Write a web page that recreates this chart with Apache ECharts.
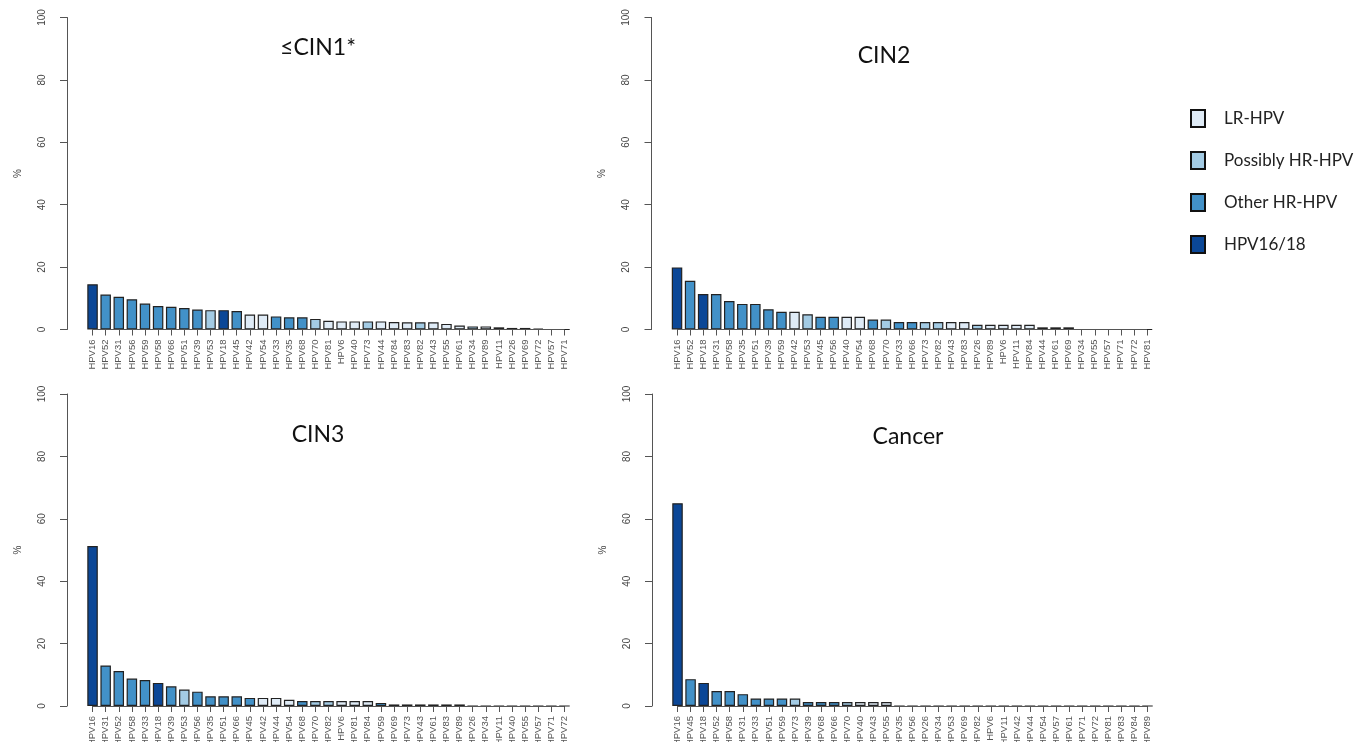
<!DOCTYPE html>
<html>
<head>
<meta charset="utf-8">
<script src="https://cdn.jsdelivr.net/npm/echarts@6/dist/echarts.min.js"></script>
<style>
html,body{margin:0;padding:0;background:#fff;}
#chart{width:1372px;height:742px;}
</style>
</head>
<body>
<div id="chart"></div>
<script>
// ---- Data ----
const panelTitles = ['\u2264CIN1*', 'CIN2', 'CIN3', 'Cancer'];

const cats1 = ['HPV16','HPV52','HPV31','HPV56','HPV59','HPV58','HPV66','HPV51','HPV39','HPV53','HPV18','HPV45','HPV42','HPV54','HPV33','HPV35','HPV68','HPV70','HPV81','HPV6','HPV40','HPV73','HPV44','HPV84','HPV83','HPV82','HPV43','HPV55','HPV61','HPV34','HPV89','HPV11','HPV26','HPV69','HPV72','HPV57','HPV71'];
const vals1 = [14.5,11.2,10.5,9.7,8.3,7.5,7.3,6.9,6.4,6.2,6.2,5.9,4.8,4.8,4.2,3.9,3.9,3.4,2.8,2.6,2.6,2.6,2.6,2.4,2.3,2.3,2.3,1.8,1.3,1.0,1.0,0.7,0.5,0.5,0.3,0,0];

const cats2 = ['HPV16','HPV52','HPV18','HPV31','HPV58','HPV35','HPV51','HPV39','HPV59','HPV42','HPV53','HPV45','HPV56','HPV40','HPV54','HPV68','HPV70','HPV33','HPV66','HPV73','HPV82','HPV43','HPV83','HPV26','HPV89','HPV6','HPV11','HPV84','HPV44','HPV61','HPV69','HPV34','HPV55','HPV57','HPV71','HPV72','HPV81'];
const vals2 = [19.9,15.6,11.4,11.4,9.1,8.2,8.2,6.5,5.7,5.7,4.9,4.1,4.1,4.1,4.1,3.2,3.2,2.4,2.4,2.4,2.4,2.4,2.4,1.5,1.5,1.5,1.5,1.5,0.7,0.7,0.7,0,0,0,0,0,0];

const cats3 = ['HPV16','HPV31','HPV52','HPV58','HPV33','HPV18','HPV39','HPV53','HPV56','HPV35','HPV51','HPV66','HPV45','HPV42','HPV44','HPV54','HPV68','HPV70','HPV82','HPV6','HPV81','HPV84','HPV59','HPV69','HPV73','HPV43','HPV61','HPV83','HPV89','HPV26','HPV34','HPV11','HPV40','HPV55','HPV57','HPV71','HPV72'];
const vals3 = [51.3,13.0,11.2,8.8,8.3,7.4,6.3,5.3,4.6,3.1,3.1,3.1,2.6,2.6,2.6,2.0,1.6,1.6,1.6,1.6,1.6,1.6,1.0,0.5,0.5,0.5,0.5,0.5,0.5,0,0,0,0,0,0,0,0];

const cats4 = ['HPV16','HPV45','HPV18','HPV52','HPV58','HPV31','HPV33','HPV51','HPV59','HPV73','HPV39','HPV68','HPV66','HPV70','HPV40','HPV43','HPV55','HPV35','HPV56','HPV26','HPV34','HPV53','HPV69','HPV82','HPV6','HPV11','HPV42','HPV44','HPV54','HPV57','HPV61','HPV71','HPV72','HPV81','HPV83','HPV84','HPV89'];
const vals4 = [65.0,8.6,7.4,4.8,4.8,3.8,2.4,2.4,2.4,2.4,1.3,1.3,1.3,1.3,1.3,1.3,1.3,0,0,0,0,0,0,0,0,0,0,0,0,0,0,0,0,0,0,0,0];

const groupNames = ['LR-HPV','Possibly HR-HPV','Other HR-HPV','HPV16/18'];
const types1618 = ['HPV16','HPV18'];
const typesOtherHR = ['HPV31','HPV33','HPV35','HPV39','HPV45','HPV51','HPV52','HPV56','HPV58','HPV59','HPV66','HPV68'];
const typesPossiblyHR = ['HPV26','HPV34','HPV53','HPV70','HPV73','HPV82'];
const yTicks = [0,20,40,60,80,100];

// ---- Styling ----
const groupColors = ['#dfebf6','#a3cbe4','#4291c8','#0b4797'];
const panels = [
  {cats: cats1, vals: vals1, grid: {left: 86, top: 17.5, width: 485, height: 312}, title: {x: 313, y: 31}},
  {cats: cats2, vals: vals2, grid: {left: 670.5, top: 17.5, width: 483, height: 312}, title: {x: 879, y: 39}},
  {cats: cats3, vals: vals3, grid: {left: 86, top: 394, width: 485, height: 312}, title: {x: 313, y: 418}},
  {cats: cats4, vals: vals4, grid: {left: 671, top: 394, width: 483, height: 312}, title: {x: 903, y: 420}}
];

function groupOf(t) {
  if (types1618.includes(t)) return 3;
  if (typesOtherHR.includes(t)) return 2;
  if (typesPossiblyHR.includes(t)) return 1;
  return 0;
}

const grids = [], xAxes = [], yAxes = [], series = [], titles = [];
panels.forEach((p, i) => {
  grids.push(Object.assign({containLabel: false, outerBoundsMode: 'none'}, p.grid));
  titles.push({
    text: panelTitles[i], left: p.title.x, top: p.title.y, textAlign: 'center',
    textStyle: {fontFamily: 'Lato, "Open Sans", sans-serif', fontSize: 23, fontWeight: 'normal', color: '#111'}
  });
  xAxes.push({
    type: 'category', gridIndex: i, data: p.cats,
    axisLine: {show: false},
    axisTick: {show: true, alignWithLabel: true, interval: 0, length: 6, lineStyle: {color: '#555', width: 1}},
    axisLabel: {interval: 0, rotate: 90, fontSize: 9.5, color: '#555', margin: 10, fontFamily: '"Liberation Sans", Arial, sans-serif'}
  });
  yAxes.push({
    type: 'value', gridIndex: i, min: 0, max: 100, interval: 20, offset: 19,
    name: '%', nameLocation: 'middle', nameGap: 44, nameRotate: 90,
    nameTextStyle: {fontSize: 10, color: '#444', fontFamily: '"Liberation Sans", Arial, sans-serif'},
    axisLine: {show: true, lineStyle: {color: '#555', width: 1}},
    axisTick: {show: true, length: 7, lineStyle: {color: '#555'}},
    splitLine: {show: false},
    axisLabel: {rotate: 90, fontSize: 10, color: '#444', margin: 20, fontFamily: '"Liberation Sans", Arial, sans-serif',
      formatter: v => yTicks.includes(v) ? String(v) : ''}
  });
  groupNames.forEach((g, gi) => {
    const s = {
      type: 'bar', name: g, xAxisIndex: i, yAxisIndex: i, stack: 'p' + i,
      barWidth: 10.5,
      data: p.cats.map((c, k) => groupOf(c) === gi ? p.vals[k] : '-'),
      itemStyle: {color: groupColors[gi], borderColor: '#222', borderWidth: 1.2},
      emphasis: {disabled: true},
      animation: false
    };
    if (gi === 0) {
      s.markLine = {
        silent: true, symbol: 'none', animation: false,
        label: {show: false},
        lineStyle: {color: '#555', width: 1, type: 'solid'},
        data: [[{coord: [p.cats[0], 0]}, {coord: [p.cats[p.cats.length - 1], 0]}]]
      };
    }
    series.push(s);
  });
});

const chart = echarts.init(document.getElementById('chart'), null, {renderer: 'canvas'});
chart.setOption({
  backgroundColor: '#fff',
  animation: false,
  title: titles,
  grid: grids,
  xAxis: xAxes,
  yAxis: yAxes,
  legend: {
    data: groupNames.slice(),
    orient: 'vertical', left: 1185, top: 104,
    icon: 'rect', itemWidth: 14, itemHeight: 17, itemGap: 23,
    itemStyle: {borderColor: '#111', borderWidth: 2},
    textStyle: {fontSize: 17, color: '#222', fontFamily: 'Lato, "Open Sans", sans-serif', padding: [0, 0, 0, 14]},
    selectedMode: false
  },
  series: series
});
</script>
</body>
</html>
